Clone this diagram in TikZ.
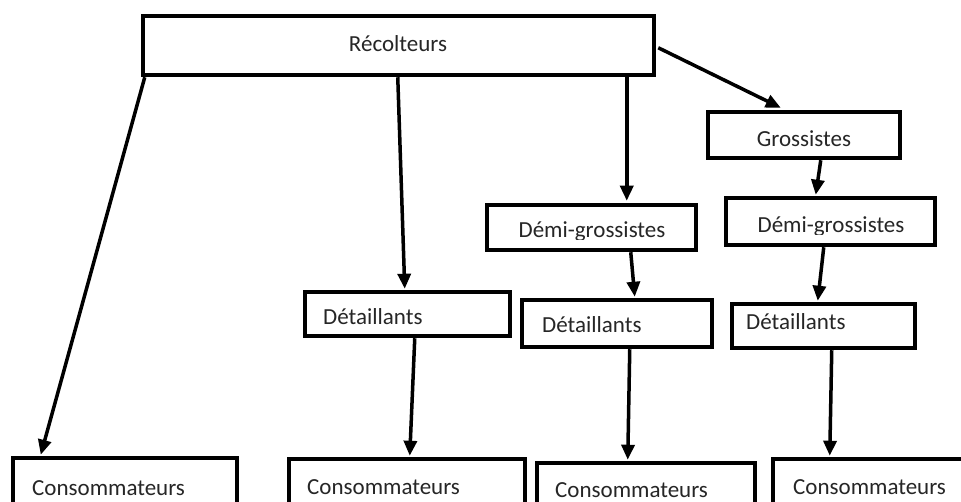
\documentclass[tikz,border=0pt]{standalone}
\usepackage{fontspec}
\setmainfont{Carlito}
\usetikzlibrary{arrows.meta}
\tikzset{
  boxnode/.style={draw=black, line width=4.5pt, fill=none, inner sep=0pt},
  lbl/.style={inner sep=0pt, font=\fontsize{23}{27}\selectfont, text=black!85},
  arr/.style={line width=3.5pt, -{Triangle[length=15pt,width=13pt]}}
}
\newcommand{\mybox}[5]{\node[boxnode, minimum width=#4-#2, minimum height=#5-#3] (#1) at ({(#2+#4)/2},{(#3+#5)/2}) {};}
\begin{document}
\begin{tikzpicture}[x=1pt,y=-1pt]
\useasboundingbox (0,0) rectangle (961,502);
\clip (0,0) rectangle (961,502);
\fill[white] (0,0) rectangle (961,502);
% boxes
\mybox{recol}{143}{16}{654}{75}
\mybox{gros}{708}{112}{900}{158}
\mybox{demiA}{487}{205}{696}{250}
\mybox{demiB}{726}{198}{935}{245}
\mybox{detA}{305}{292}{510}{336}
\mybox{detB}{522}{300}{712}{347}
\mybox{detC}{732}{304}{915}{348}
\mybox{consA}{13}{458}{237}{520}
\mybox{consB}{289}{459}{525}{520}
\mybox{consC}{537}{463}{755}{520}
\mybox{consD}{773}{459}{990}{520}
% labels
\node[lbl, anchor=base] (tRecol) at (398,52) {Récolteurs};
\node[lbl, anchor=base] (tGros) at (804,147) {Grossistes};
\begin{scope}
  \clip (487,205) rectangle (696,240);
  \node[lbl, anchor=base] (tDemiA) at (592,238) {Démi-grossistes};
\end{scope}
\begin{scope}
  \clip (726,198) rectangle (935,235);
  \node[lbl, anchor=base] (tDemiB) at (831,233) {Démi-grossistes};
\end{scope}
\node[lbl, anchor=base west] (tDetA) at (323,325) {Détaillants};
\node[lbl, anchor=base west] (tDetB) at (542,333) {Détaillants};
\node[lbl, anchor=base west] (tDetC) at (746,330) {Détaillants};
\node[lbl, anchor=base west] (tConsA) at (32,495) {Consommateurs};
\node[lbl, anchor=base west] (tConsB) at (307,494) {Consommateurs};
\node[lbl, anchor=base west] (tConsC) at (555,497) {Consommateurs};
\node[lbl, anchor=base west] (tConsD) at (793,494) {Consommateurs};
% connectors
\draw[arr] ([xshift=4pt]recol.south west) -- ([xshift=30pt,yshift=1pt]consA.north west);
\draw[arr] ([xshift=257pt]recol.south west) -- ([xshift=102pt,yshift=1pt]detA.north west);
\draw[arr] ([xshift=486pt]recol.south west) -- ([xshift=142pt,yshift=2pt]demiA.north west);
\draw[arr] ([xshift=2pt,yshift=-34pt]recol.north east) -- ([xshift=75pt,yshift=2pt]gros.north west);
\draw[arr] ([xshift=115pt]gros.south west) -- ([xshift=92pt,yshift=1pt]demiB.north west);
\draw[arr] ([xshift=146pt]demiA.south west) -- ([xshift=115pt,yshift=1pt]detB.north west);
\draw[arr] ([xshift=100pt]demiB.south west) -- ([xshift=88pt,yshift=1pt]detC.north west);
\draw[arr] ([xshift=112pt]detA.south west) -- ([xshift=123pt,yshift=1pt]consB.north west);
\draw[arr] ([xshift=110pt]detB.south west) -- ([xshift=93pt,yshift=1pt]consC.north west);
\draw[arr] ([xshift=102pt]detC.south west) -- ([xshift=59pt,yshift=1pt]consD.north west);
\end{tikzpicture}
\end{document}
